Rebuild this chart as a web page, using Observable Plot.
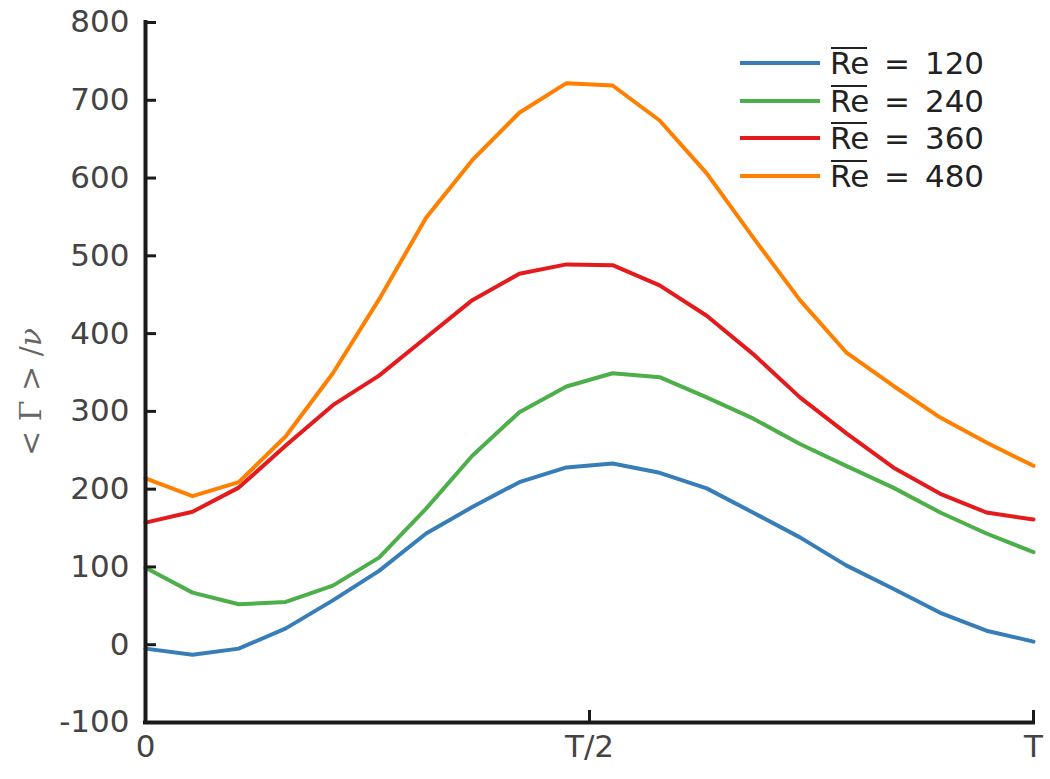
<!DOCTYPE html>
<html><head><meta charset="utf-8">
<script src="https://cdn.jsdelivr.net/npm/d3@7"></script>
<script src="https://cdn.jsdelivr.net/npm/@observablehq/plot@0.6"></script>
<style>
body{margin:0;background:#fff;}
#wrap{position:relative;width:1050px;height:779px;}
#legend{position:absolute;left:740px;top:44px;font-family:"DejaVu Sans",Verdana,sans-serif;font-size:31px;color:#222;}
.row{height:37.7px;display:flex;align-items:center;white-space:pre;word-spacing:5px;}
.sw{width:80px;height:4px;margin-right:10px;}
.ov{position:relative;display:inline-block;}
.ov::before{content:"";position:absolute;left:1px;right:2px;top:2px;height:2px;background:#222;}
#ylab{position:absolute;left:30px;top:392px;transform:translate(-50%,-50%) rotate(-90deg);font-family:"DejaVu Serif","Liberation Serif",serif;font-size:30px;color:#666;white-space:pre;}
</style></head><body><div id="wrap"><div id="ylab">&lt; Γ &gt; /<i>ν</i></div><div id="legend"></div></div>
<script>
// phase within the period (0 .. T)
const phase = [0, 0.053, 0.105, 0.158, 0.211, 0.263, 0.316, 0.368, 0.421, 0.474, 0.526, 0.579, 0.632, 0.684, 0.737, 0.789, 0.842, 0.895, 0.947, 1];
const re120 = [-5, -13, -5, 21, 57, 95, 143, 177, 209, 228, 233, 221, 201, 170, 138, 102, 72, 41, 18, 4];
const re240 = [99, 67, 52, 55, 76, 112, 175, 243, 299, 332, 349, 344, 318, 291, 258, 230, 202, 170, 143, 119];
const re360 = [157, 171, 202, 256, 308, 346, 395, 443, 477, 489, 488, 462, 423, 374, 318, 272, 228, 194, 170, 161];
const re480 = [214, 191, 209, 268, 349, 444, 549, 623, 684, 722, 719, 674, 606, 524, 443, 376, 333, 292, 260, 230];
const seriesNames = ["120", "240", "360", "480"];
const seriesColors = ["#377eb8", "#4daf4a", "#e41a1c", "#ff7f00"];
const yTicks = [-100, 0, 100, 200, 300, 400, 500, 600, 700, 800];
const xTicks = [0, 0.5, 1];
const xTickLabels = ["0", "T/2", "T"];

const allSeries = [re120, re240, re360, re480];
const data = [];
allSeries.forEach((vals, i) => vals.forEach((v, j) => data.push({t: phase[j], v, s: seriesNames[i]})));

const axisColor = "#1a1a1a";
const chart = Plot.plot({
  width: 1050, height: 779,
  marginLeft: 145, marginRight: 17, marginTop: 22, marginBottom: 57,
  style: {fontFamily: '"DejaVu Sans", Verdana, sans-serif', fontSize: "31px", color: "#444", background: "#fff"},
  x: {domain: [0, 1]},
  y: {domain: [-100, 800]},
  color: {domain: seriesNames, range: seriesColors},
  marks: [
    Plot.axisY(yTicks, {tickSize: 0, tickPadding: 16, label: null, fontSize: 31, tickFormat: d => String(d)}),
    Plot.axisX(xTicks, {tickSize: 0, tickPadding: 12, label: null, fontSize: 31, tickFormat: (d, i) => xTickLabels[i]}),
    Plot.line(data, {x: "t", y: "v", z: "s", stroke: "s", strokeWidth: 4}),
    Plot.tickY(yTicks, {stroke: axisColor, strokeWidth: 3, insetRight: 877}),
    Plot.tickX(xTicks, {stroke: axisColor, strokeWidth: 3, insetTop: 688}),
    Plot.ruleX([0], {stroke: axisColor, strokeWidth: 4, strokeLinecap: "square"}),
    Plot.ruleY([-100], {stroke: axisColor, strokeWidth: 4, strokeLinecap: "square"})
  ]
});
document.getElementById("wrap").prepend(chart);

const legend = document.getElementById("legend");
seriesNames.forEach((n, i) => {
  const row = document.createElement("div");
  row.className = "row";
  row.innerHTML = `<div class="sw" style="background:${seriesColors[i]}"></div><span><span class="ov">Re</span> = ${n}</span>`;
  legend.appendChild(row);
});
</script>
</body></html>
